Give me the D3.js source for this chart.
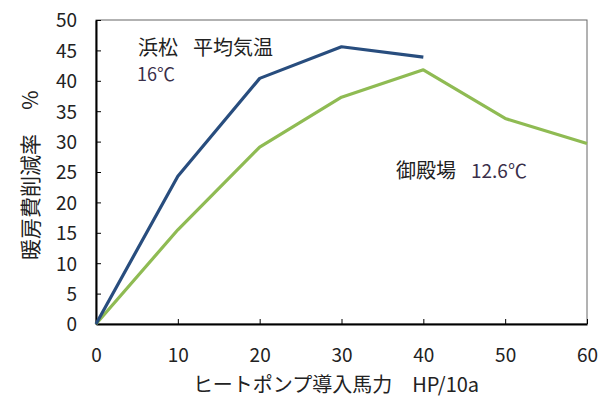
<!DOCTYPE html>
<html>
<head>
<meta charset="utf-8">
<script src="https://cdn.jsdelivr.net/npm/d3@7/dist/d3.min.js"></script>
<style>
  html, body { margin: 0; padding: 0; background: #fff; }
  svg text { font-family: "Noto Sans CJK JP", "Noto Sans", sans-serif; fill: #222; }
</style>
</head>
<body>
<svg id="chart" width="607" height="399"></svg>
<script>
// Heat pump horsepower per 10a vs. heating cost reduction (%)
const hpValues = [0, 10, 20, 30, 40, 50, 60];
const hamamatsu = [0, 24.3, 40.4, 45.6, 43.9];            // 浜松 (avg 16℃)
const gotenba = [0, 15.5, 29.1, 37.3, 41.8, 33.8, 29.7];  // 御殿場 (12.6℃)
const xTicks = [0, 10, 20, 30, 40, 50, 60];
const yTicks = [0, 5, 10, 15, 20, 25, 30, 35, 40, 45, 50];

const svg = d3.select("#chart");
const m = { left: 96, right: 20, top: 20, bottom: 75 };
const W = 607, H = 399;

const x = d3.scaleLinear().domain([0, 60]).range([m.left, W - m.right]);
const y = d3.scaleLinear().domain([0, 50]).range([H - m.bottom, m.top]);

// plot frame (top/right)
svg.append("rect")
  .attr("x", x(0)).attr("y", y(50))
  .attr("width", x(60) - x(0)).attr("height", y(0) - y(50))
  .attr("fill", "none").attr("stroke", "#666").attr("stroke-width", 1);

// y axis, ticks pointing inward
const yAxis = svg.append("g")
  .attr("transform", `translate(${x(0)},0)`)
  .call(d3.axisLeft(y).tickValues(yTicks).tickSizeInner(-5).tickSizeOuter(0).tickPadding(19));
yAxis.select(".domain").attr("stroke", "#000").attr("stroke-width", 2);
yAxis.selectAll(".tick line").attr("stroke", "#000");
yAxis.selectAll(".tick text").attr("font-size", 19).attr("dy", "0.36em");

// x axis, ticks pointing inward
const xAxis = svg.append("g")
  .attr("transform", `translate(0,${y(0)})`)
  .call(d3.axisBottom(x).tickValues(xTicks).tickSizeInner(-5).tickSizeOuter(0).tickPadding(25));
xAxis.select(".domain").attr("stroke", "#000").attr("stroke-width", 2);
xAxis.selectAll(".tick line").attr("stroke", "#000");
xAxis.selectAll(".tick text").attr("font-size", 19);

// series lines
const line = d3.line().x((d, i) => x(hpValues[i])).y(d => y(d));
svg.append("path").datum(gotenba)
  .attr("d", line).attr("fill", "none")
  .attr("stroke", "#8fbb53").attr("stroke-width", 3.2).attr("stroke-linejoin", "round");
svg.append("path").datum(hamamatsu)
  .attr("d", line).attr("fill", "none")
  .attr("stroke", "#284d7e").attr("stroke-width", 3.2).attr("stroke-linejoin", "round");

// axis titles
svg.append("text")
  .attr("transform", `translate(38,197) rotate(-90)`)
  .attr("text-anchor", "middle").attr("font-size", 21)
  .text("暖房費削減率");
svg.append("text")
  .attr("transform", `translate(38,100) rotate(-90)`)
  .attr("text-anchor", "middle").attr("font-size", 21)
  .text("%");
svg.append("text")
  .attr("x", 336).attr("y", 392)
  .attr("text-anchor", "middle").attr("font-size", 20)
  .text("ヒートポンプ導入馬力　HP/10a");

// annotations
svg.append("text").attr("x", 138).attr("y", 55).attr("font-size", 20)
  .text("浜松");
svg.append("text").attr("x", 193).attr("y", 55).attr("font-size", 20)
  .text("平均気温");
svg.append("text").attr("x", 137).attr("y", 81).attr("font-size", 18)
  .attr("style", "fill:#3a2f4a").text("16℃");
svg.append("text").attr("x", 396).attr("y", 178).attr("font-size", 20)
  .text("御殿場");
svg.append("text").attr("x", 471).attr("y", 178).attr("font-size", 19)
  .attr("style", "fill:#3a2f4a").text("12.6℃");
</script>
</body>
</html>
